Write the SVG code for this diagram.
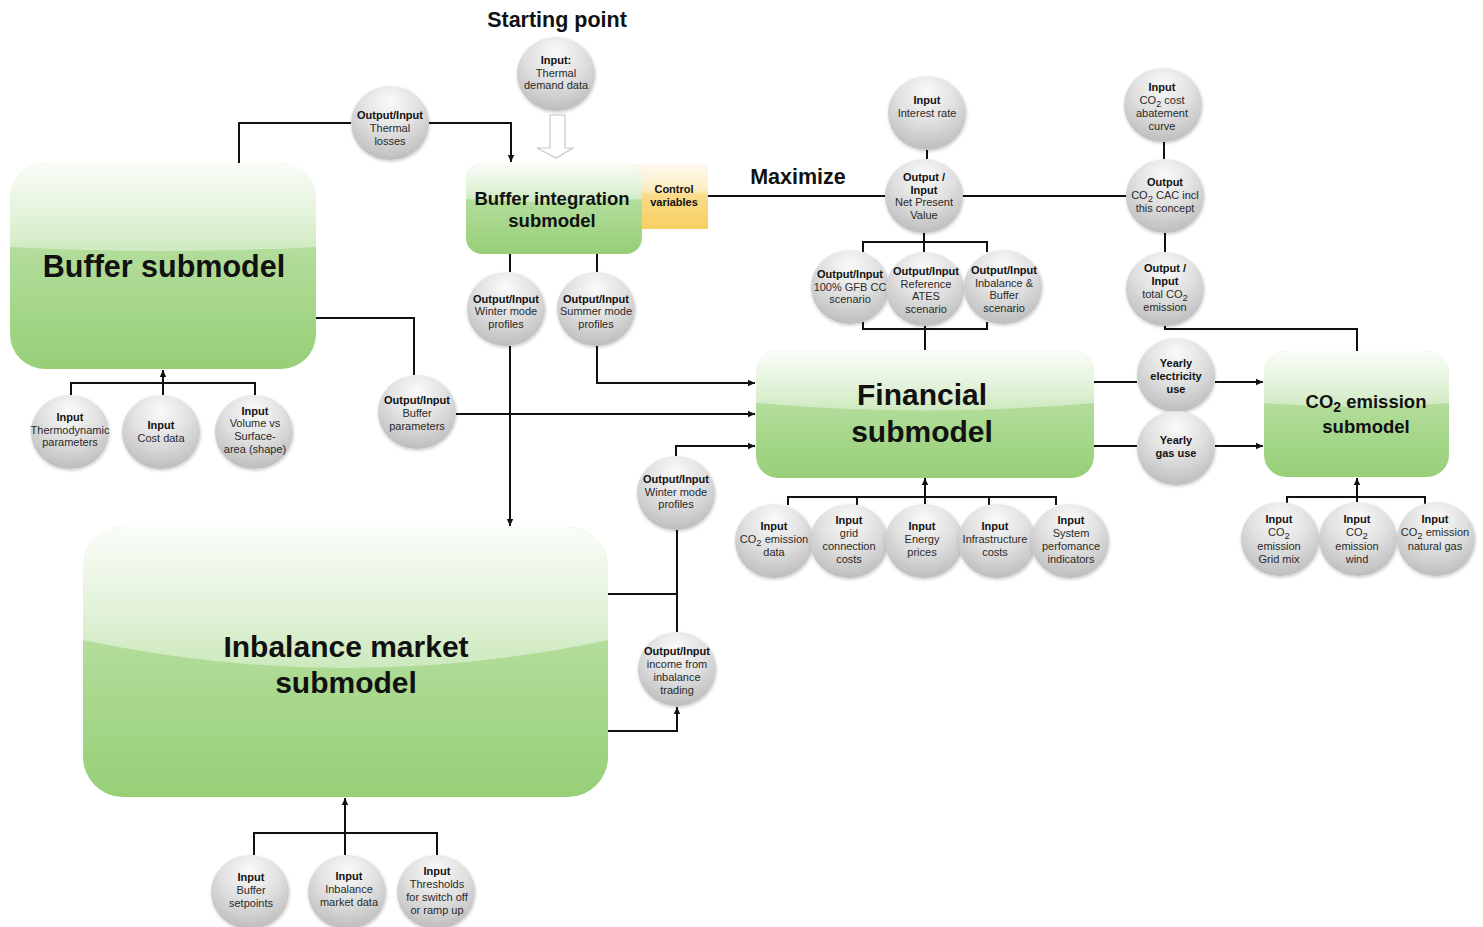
<svg xmlns="http://www.w3.org/2000/svg" width="1483" height="927" viewBox="0 0 1483 927">
  <style>
    text { font-family: "Liberation Sans", Arial, sans-serif; }
    .c { fill: url(#ballGrad); filter: url(#ballShadow); }
    .t { font-size: 11px; fill: #2a2a2a; text-anchor: middle; }
    .b { font-weight: bold; fill: #111; }
    .sub { font-size: 9.5px; }
    .title { font-weight: bold; fill: #111; text-anchor: middle; }
    .box { fill: url(#greenGrad); }
    .gloss { fill: url(#glossGrad); }
    .wire { fill: none; stroke: #111; stroke-width: 2; }
    .arrow { marker-end: url(#head); }
  </style>
  <defs>
    <radialGradient id="ballGrad" cx="0.5" cy="0.3" r="0.75" fx="0.5" fy="0.2">
      <stop offset="0" stop-color="#fafafa"/>
      <stop offset="0.5" stop-color="#e0e0e0"/>
      <stop offset="1" stop-color="#b9b9b9"/>
    </radialGradient>
    <filter id="ballShadow" x="-20%" y="-20%" width="140%" height="140%">
      <feDropShadow dx="0.5" dy="1.5" stdDeviation="1.5" flood-color="#000" flood-opacity="0.22"/>
    </filter>
    <linearGradient id="greenGrad" x1="0" y1="0" x2="0" y2="1">
      <stop offset="0" stop-color="#c6e7b4"/>
      <stop offset="1" stop-color="#97cf77"/>
    </linearGradient>
    <linearGradient id="glossGrad" x1="0" y1="0" x2="0" y2="1">
      <stop offset="0" stop-color="#fff" stop-opacity="0.9"/>
      <stop offset="1" stop-color="#fff" stop-opacity="0.38"/>
    </linearGradient>
    <linearGradient id="yellowGrad" x1="0" y1="0" x2="0" y2="1">
      <stop offset="0" stop-color="#fdfaf0"/>
      <stop offset="0.4" stop-color="#fbecc0"/>
      <stop offset="0.48" stop-color="#f9dc88"/>
      <stop offset="1" stop-color="#f7cf62"/>
    </linearGradient>
    <marker id="head" markerUnits="userSpaceOnUse" markerWidth="8" markerHeight="8" refX="7" refY="4" orient="auto">
      <path d="M0,0.8 L7,4 L0,7.2 Z" fill="#111"/>
    </marker>
    <clipPath id="clipBuffer"><rect x="10" y="163" width="306" height="206" rx="35"/></clipPath>
    <clipPath id="clipIntegration"><rect x="466" y="163" width="176" height="91" rx="16"/></clipPath>
    <clipPath id="clipFinancial"><rect x="756" y="350" width="338" height="128" rx="22"/></clipPath>
    <clipPath id="clipCo2"><rect x="1264" y="351" width="185" height="126" rx="22"/></clipPath>
    <clipPath id="clipInbalance"><rect x="83" y="527" width="525" height="270" rx="40"/></clipPath>
  </defs>

  <rect width="1483" height="927" fill="#fff"/>

  <!-- free-standing labels -->
  <text class="title" x="557" y="27" font-size="21.5">Starting point</text>
  <text class="title" x="798" y="184" font-size="21.5">Maximize</text>

  <!-- connectors -->
  <g id="connectors">
    <path class="wire" d="M239,163 V123 H351"/>
    <path class="wire arrow" d="M429,123 H511 V162"/>
    <path class="wire" d="M708,196 H885"/>
    <path class="wire" d="M963,196 H1126"/>
    <path class="wire" d="M927,150 V159"/>
    <path class="wire" d="M924,233 V252 M863,252 V242 H987 V252"/>
    <path class="wire" d="M863,322 V329 H987 V322 M925,326 V350"/>
    <path class="wire" d="M1164,142 V159"/>
    <path class="wire" d="M1165,233 V252"/>
    <path class="wire" d="M1165,326 V329 H1357 V351"/>
    <path class="wire" d="M510,254 V272 M597,254 V272"/>
    <path class="wire arrow" d="M510,346 V526"/>
    <path class="wire arrow" d="M597,346 V383 H755"/>
    <path class="wire" d="M316,318 H414 V375"/>
    <path class="wire arrow" d="M456,414 H755"/>
    <path class="wire arrow" d="M676,456 V446 H755"/>
    <path class="wire" d="M677,530 V632 M608,594 H677"/>
    <path class="wire arrow" d="M608,731 H677 V707"/>
    <path class="wire" d="M1094,382 H1137"/>
    <path class="wire arrow" d="M1215,382 H1263"/>
    <path class="wire" d="M1094,446 H1137"/>
    <path class="wire arrow" d="M1215,446 H1263"/>
    <path class="wire" d="M788,505 V497 H1056 V505 M857,497 V505 M989,497 V505"/>
    <path class="wire arrow" d="M925,504 V478"/>
    <path class="wire" d="M1287,505 V497 H1425 V505"/>
    <path class="wire arrow" d="M1357,502 V478"/>
    <path class="wire" d="M71,395 V383 H255 V395"/>
    <path class="wire arrow" d="M163,395 V370"/>
    <path class="wire" d="M254,855 V833 H437 V855"/>
    <path class="wire arrow" d="M345,855 V798"/>
    <!-- hollow arrow from the starting point -->
    <path d="M550,115 H565 V148 H573 L556,158 L537,148 H550 Z" fill="#fff" stroke="#c8c8c8" stroke-width="1.2"/>
  </g>

  <!-- submodels -->
  <g id="buffer-submodel">
    <g clip-path="url(#clipBuffer)">
      <rect class="box" x="10" y="163" width="306" height="206"/>
      <path class="gloss" d="M10,163 H316 V247 Q163,255 10,247 Z"/>
    </g>
    <text class="title" x="164" y="277" font-size="30.5">Buffer submodel</text>
  </g>

  <g id="buffer-integration-submodel">
    <rect x="628" y="164" width="80" height="65" fill="url(#yellowGrad)"/>
    <text class="t b" x="674" y="193">Control</text>
    <text class="t b" x="674" y="206">variables</text>
    <g clip-path="url(#clipIntegration)">
      <rect class="box" x="466" y="163" width="176" height="91"/>
      <path class="gloss" d="M466,163 H642 V199 Q554,205 466,199 Z"/>
    </g>
    <text class="title" x="552" y="205" font-size="18.5">Buffer integration</text>
    <text class="title" x="552" y="227" font-size="18.5">submodel</text>
  </g>

  <g id="financial-submodel">
    <g clip-path="url(#clipFinancial)">
      <rect class="box" x="756" y="350" width="338" height="128"/>
      <path class="gloss" d="M756,350 H1094 V403 Q925,418 756,403 Z"/>
    </g>
    <text class="title" x="922" y="405" font-size="30">Financial</text>
    <text class="title" x="922" y="442" font-size="30">submodel</text>
  </g>

  <g id="co2-emission-submodel">
    <g clip-path="url(#clipCo2)">
      <rect class="box" x="1264" y="351" width="185" height="126"/>
      <path class="gloss" d="M1264,351 H1449 V403 Q1356,411 1264,403 Z"/>
    </g>
    <text class="title" x="1366" y="408" font-size="18.5">CO<tspan font-size="14" dy="4">2</tspan><tspan dy="-4"> emission</tspan></text>
    <text class="title" x="1366" y="433" font-size="18.5">submodel</text>
  </g>

  <g id="inbalance-market-submodel">
    <g clip-path="url(#clipInbalance)">
      <rect class="box" x="83" y="527" width="525" height="270"/>
      <path class="gloss" d="M83,527 H608 V640 Q345,696 83,640 Z"/>
    </g>
    <text class="title" x="346" y="657" font-size="30">Inbalance market</text>
    <text class="title" x="346" y="693" font-size="30">submodel</text>
  </g>

  <!-- data nodes -->
  <g id="thermal-losses">
    <ellipse class="c" cx="390" cy="123" rx="39" ry="37"/>
    <text class="t"><tspan class="b" x="390" y="119">Output/Input</tspan><tspan x="390" y="132">Thermal</tspan><tspan x="390" y="145">losses</tspan></text>
  </g>
  <g id="thermal-demand">
    <ellipse class="c" cx="556" cy="74" rx="39" ry="37"/>
    <text class="t"><tspan class="b" x="556" y="64">Input:</tspan><tspan x="556" y="77">Thermal</tspan><tspan x="556" y="89">demand data</tspan></text>
  </g>
  <g id="interest-rate">
    <ellipse class="c" cx="927" cy="113" rx="39" ry="37"/>
    <text class="t"><tspan class="b" x="927" y="104">Input</tspan><tspan x="927" y="117">Interest rate</tspan></text>
  </g>
  <g id="net-present-value">
    <ellipse class="c" cx="924" cy="196" rx="39" ry="37"/>
    <text class="t"><tspan class="b" x="924" y="181">Output /</tspan><tspan class="b" x="924" y="194">Input</tspan><tspan x="924" y="206">Net Present</tspan><tspan x="924" y="219">Value</tspan></text>
  </g>
  <g id="gfb-scenario">
    <ellipse class="c" cx="850" cy="287" rx="39" ry="37"/>
    <text class="t"><tspan class="b" x="850" y="278">Output/Input</tspan><tspan x="850" y="291">100% GFB CC</tspan><tspan x="850" y="303">scenario</tspan></text>
  </g>
  <g id="ates-scenario">
    <ellipse class="c" cx="925" cy="289" rx="39" ry="37"/>
    <text class="t"><tspan class="b" x="926" y="275">Output/Input</tspan><tspan x="926" y="288">Reference</tspan><tspan x="926" y="300">ATES</tspan><tspan x="926" y="313">scenario</tspan></text>
  </g>
  <g id="inbalance-buffer-scenario">
    <ellipse class="c" cx="1003" cy="287" rx="39" ry="37"/>
    <text class="t"><tspan class="b" x="1004" y="274">Output/Input</tspan><tspan x="1004" y="287">Inbalance &amp;</tspan><tspan x="1004" y="299">Buffer</tspan><tspan x="1004" y="312">scenario</tspan></text>
  </g>
  <g id="co2-cost-curve">
    <ellipse class="c" cx="1163" cy="105" rx="39" ry="37"/>
    <text class="t"><tspan class="b" x="1162" y="91">Input</tspan><tspan x="1162" y="104">CO<tspan class="sub" dy="2.5">2</tspan><tspan dy="-2.5"> cost</tspan></tspan><tspan x="1162" y="117">abatement</tspan><tspan x="1162" y="130">curve</tspan></text>
  </g>
  <g id="co2-cac">
    <ellipse class="c" cx="1165" cy="196" rx="39" ry="37"/>
    <text class="t"><tspan class="b" x="1165" y="186">Output</tspan><tspan x="1165" y="199">CO<tspan class="sub" dy="2.5">2</tspan><tspan dy="-2.5"> CAC incl</tspan></tspan><tspan x="1165" y="212">this concept</tspan></text>
  </g>
  <g id="total-co2">
    <ellipse class="c" cx="1165" cy="289" rx="39" ry="37"/>
    <text class="t"><tspan class="b" x="1165" y="272">Output /</tspan><tspan class="b" x="1165" y="285">Input</tspan><tspan x="1165" y="298">total CO<tspan class="sub" dy="2.5">2</tspan></tspan><tspan x="1165" y="311">emission</tspan></text>
  </g>
  <g id="winter-profiles-a">
    <ellipse class="c" cx="506" cy="309" rx="39" ry="37"/>
    <text class="t"><tspan class="b" x="506" y="303">Output/Input</tspan><tspan x="506" y="315">Winter mode</tspan><tspan x="506" y="328">profiles</tspan></text>
  </g>
  <g id="summer-profiles">
    <ellipse class="c" cx="596" cy="309" rx="39" ry="37"/>
    <text class="t"><tspan class="b" x="596" y="303">Output/Input</tspan><tspan x="596" y="315">Summer mode</tspan><tspan x="596" y="328">profiles</tspan></text>
  </g>
  <g id="buffer-parameters">
    <ellipse class="c" cx="417" cy="412" rx="39" ry="37"/>
    <text class="t"><tspan class="b" x="417" y="404">Output/Input</tspan><tspan x="417" y="417">Buffer</tspan><tspan x="417" y="430">parameters</tspan></text>
  </g>
  <g id="thermodynamic-parameters">
    <ellipse class="c" cx="70" cy="432" rx="39" ry="37"/>
    <text class="t"><tspan class="b" x="70" y="421">Input</tspan><tspan x="70" y="434">Thermodynamic</tspan><tspan x="70" y="446">parameters</tspan></text>
  </g>
  <g id="cost-data">
    <ellipse class="c" cx="161" cy="432" rx="39" ry="37"/>
    <text class="t"><tspan class="b" x="161" y="429">Input</tspan><tspan x="161" y="442">Cost data</tspan></text>
  </g>
  <g id="volume-surface">
    <ellipse class="c" cx="254" cy="432" rx="39" ry="37"/>
    <text class="t"><tspan class="b" x="255" y="415">Input</tspan><tspan x="255" y="427">Volume vs</tspan><tspan x="255" y="440">Surface-</tspan><tspan x="255" y="453">area (shape)</tspan></text>
  </g>
  <g id="yearly-electricity">
    <ellipse class="c" cx="1176" cy="375" rx="39" ry="37"/>
    <text class="t b"><tspan x="1176" y="367">Yearly</tspan><tspan x="1176" y="380">electricity</tspan><tspan x="1176" y="393">use</tspan></text>
  </g>
  <g id="yearly-gas">
    <ellipse class="c" cx="1176" cy="448" rx="39" ry="37"/>
    <text class="t b"><tspan x="1176" y="444">Yearly</tspan><tspan x="1176" y="457">gas use</tspan></text>
  </g>
  <g id="winter-profiles-b">
    <ellipse class="c" cx="676" cy="493" rx="39" ry="37"/>
    <text class="t"><tspan class="b" x="676" y="483">Output/Input</tspan><tspan x="676" y="496">Winter mode</tspan><tspan x="676" y="508">profiles</tspan></text>
  </g>
  <g id="inbalance-income">
    <ellipse class="c" cx="677" cy="669" rx="39" ry="37"/>
    <text class="t"><tspan class="b" x="677" y="655">Output/Input</tspan><tspan x="677" y="668">income from</tspan><tspan x="677" y="681">inbalance</tspan><tspan x="677" y="694">trading</tspan></text>
  </g>
  <g id="co2-emission-data">
    <ellipse class="c" cx="774" cy="541" rx="39" ry="37"/>
    <text class="t"><tspan class="b" x="774" y="530">Input</tspan><tspan x="774" y="543">CO<tspan class="sub" dy="2.5">2</tspan><tspan dy="-2.5"> emission</tspan></tspan><tspan x="774" y="556">data</tspan></text>
  </g>
  <g id="grid-connection-costs">
    <ellipse class="c" cx="849" cy="541" rx="39" ry="37"/>
    <text class="t"><tspan class="b" x="849" y="524">Input</tspan><tspan x="849" y="537">grid</tspan><tspan x="849" y="550">connection</tspan><tspan x="849" y="563">costs</tspan></text>
  </g>
  <g id="energy-prices">
    <ellipse class="c" cx="924" cy="541" rx="39" ry="37"/>
    <text class="t"><tspan class="b" x="922" y="530">Input</tspan><tspan x="922" y="543">Energy</tspan><tspan x="922" y="556">prices</tspan></text>
  </g>
  <g id="infrastructure-costs">
    <ellipse class="c" cx="997" cy="541" rx="39" ry="37"/>
    <text class="t"><tspan class="b" x="995" y="530">Input</tspan><tspan x="995" y="543">Infrastructure</tspan><tspan x="995" y="556">costs</tspan></text>
  </g>
  <g id="system-indicators">
    <ellipse class="c" cx="1070" cy="541" rx="39" ry="37"/>
    <text class="t"><tspan class="b" x="1071" y="524">Input</tspan><tspan x="1071" y="537">System</tspan><tspan x="1071" y="550">perfomance</tspan><tspan x="1071" y="563">indicators</tspan></text>
  </g>
  <g id="co2-grid-mix">
    <ellipse class="c" cx="1280" cy="539" rx="39" ry="37"/>
    <text class="t"><tspan class="b" x="1279" y="523">Input</tspan><tspan x="1279" y="536">CO<tspan class="sub" dy="2.5">2</tspan></tspan><tspan x="1279" y="550">emission</tspan><tspan x="1279" y="563">Grid mix</tspan></text>
  </g>
  <g id="co2-wind">
    <ellipse class="c" cx="1358" cy="539" rx="39" ry="37"/>
    <text class="t"><tspan class="b" x="1357" y="523">Input</tspan><tspan x="1357" y="536">CO<tspan class="sub" dy="2.5">2</tspan></tspan><tspan x="1357" y="550">emission</tspan><tspan x="1357" y="563">wind</tspan></text>
  </g>
  <g id="co2-natural-gas">
    <ellipse class="c" cx="1436" cy="539" rx="39" ry="37"/>
    <text class="t"><tspan class="b" x="1435" y="523">Input</tspan><tspan x="1435" y="536">CO<tspan class="sub" dy="2.5">2</tspan><tspan dy="-2.5"> emission</tspan></tspan><tspan x="1435" y="550">natural gas</tspan></text>
  </g>
  <g id="buffer-setpoints">
    <ellipse class="c" cx="250" cy="892" rx="39" ry="37"/>
    <text class="t"><tspan class="b" x="251" y="881">Input</tspan><tspan x="251" y="894">Buffer</tspan><tspan x="251" y="907">setpoints</tspan></text>
  </g>
  <g id="inbalance-market-data">
    <ellipse class="c" cx="347" cy="892" rx="39" ry="37"/>
    <text class="t"><tspan class="b" x="349" y="880">Input</tspan><tspan x="349" y="893">Inbalance</tspan><tspan x="349" y="906">market data</tspan></text>
  </g>
  <g id="switch-thresholds">
    <ellipse class="c" cx="436" cy="892" rx="39" ry="37"/>
    <text class="t"><tspan class="b" x="437" y="875">Input</tspan><tspan x="437" y="888">Thresholds</tspan><tspan x="437" y="901">for switch off</tspan><tspan x="437" y="914">or ramp up</tspan></text>
  </g>
</svg>
